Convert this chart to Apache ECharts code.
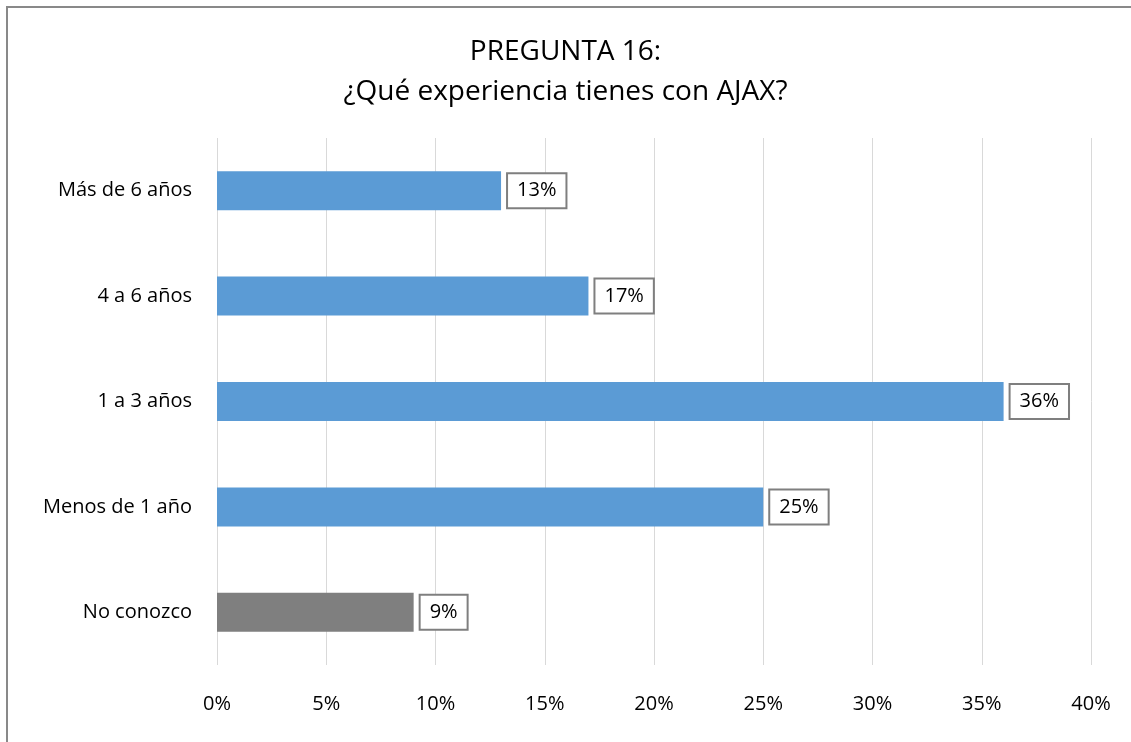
<!DOCTYPE html>
<html>
<head>
<meta charset="utf-8">
<script src="https://cdn.jsdelivr.net/npm/echarts@6/dist/echarts.min.js"></script>
<style>
  html, body { margin: 0; padding: 0; background: #fff; }
  #chart { width: 1131px; height: 742px; }
</style>
</head>
<body>
<div id="chart"></div>
<script>
// categories listed bottom-to-top (category axis starts at the bottom)
var categorias = ['No conozco', 'Menos de 1 año', '1 a 3 años', '4 a 6 años', 'Más de 6 años'];
var porcentajes = [9, 25, 36, 17, 13];
var colores = ['#7f7f7f', '#5b9bd5', '#5b9bd5', '#5b9bd5', '#5b9bd5'];

var chart = echarts.init(document.getElementById('chart'));

chart.setOption({
  animation: false,
  textStyle: { fontFamily: 'Open Sans' },
  title: {
    text: 'PREGUNTA 16:\n¿Qué experiencia tienes con AJAX?',
    left: 'center',
    top: 27,
    textStyle: {
      fontFamily: 'Open Sans',
      fontSize: 28,
      fontWeight: 'normal',
      color: '#000',
      lineHeight: 40
    }
  },
  graphic: [{
    type: 'rect',
    shape: { x: 7, y: 7, width: 1140, height: 750 },
    style: { fill: 'none', stroke: '#898989', lineWidth: 2 },
    silent: true
  }],
  grid: {
    left: 217,
    right: 40,
    top: 138,
    bottom: 77
  },
  xAxis: {
    type: 'value',
    min: 0,
    max: 40,
    interval: 5,
    axisLine: { show: false },
    axisTick: { show: false },
    splitLine: { lineStyle: { color: '#d9d9d9', width: 1 } },
    axisLabel: {
      formatter: '{value}%',
      fontSize: 20,
      color: '#000',
      margin: 29
    }
  },
  yAxis: {
    type: 'category',
    data: categorias,
    axisLine: { show: false },
    axisTick: { show: false },
    axisLabel: {
      fontSize: 20,
      color: '#000',
      margin: 25
    }
  },
  series: [{
    type: 'bar',
    barWidth: '37%',
    data: porcentajes.map(function (v, i) {
      return { value: v, itemStyle: { color: colores[i] } };
    }),
    label: {
      show: true,
      position: 'right',
      distance: 7,
      formatter: '{c}%',
      fontSize: 20,
      color: '#000',
      backgroundColor: '#fff',
      borderColor: '#7f7f7f',
      borderWidth: 2,
      padding: [7, 9, 6, 9]
    }
  }]
});
</script>
</body>
</html>
